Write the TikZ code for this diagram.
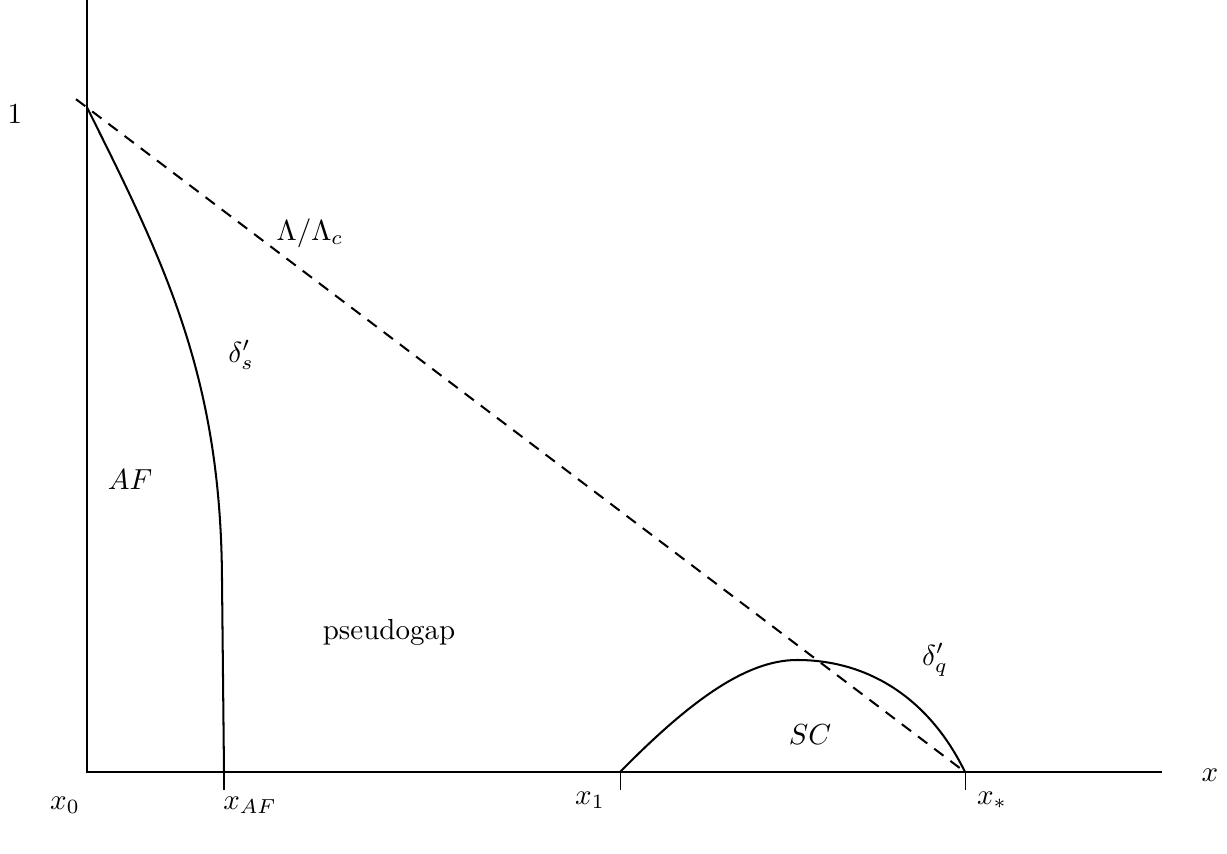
\documentclass[tikz,border=0pt]{standalone}
\usepackage{amsmath,amssymb}
\usepackage{tikz}

\begin{document}
\begin{tikzpicture}[every node/.style={font=\normalsize}, x=0.012119cm, y=-0.012119cm,
	curve/.style={line width=0.7pt}, tick/.style={line width=0.35pt}]
	\useasboundingbox (0,0) rectangle (1227,854);
	% axes
	\coordinate (O) at (87,772);
	\coordinate (top) at (87,0);
	\coordinate (xend) at (1162,772);
	\coordinate (xAF) at (224,772);
	\coordinate (xone) at (620,772);
	\coordinate (xstar) at (965,772);
	\coordinate (one) at (87,107.5);
	\coordinate (dstart) at (76,99.2);
	\draw[tick] (top) -- (O) -- (xend);
	\draw[tick] (xAF) -- ++(0,18);
	\draw[tick] (xone) -- ++(0,18);
	\draw[tick] (xstar) -- ++(0,18);
	% cutoff line
	\draw[curve, dash pattern=on 4pt off 3pt] (dstart) -- (xstar);
	% AF boundary
	\draw[curve] (one) .. controls (167,267) and (221,380) .. (222,580) -- (xAF);
	% SC dome
	\draw[curve] (xone) .. controls (688,703) and (745,660) .. (797,660)
		.. controls (870,660) and (930,700) .. (xstar);
	% labels
	\node (lone) at (15,114) {$1$};
	\node (lcut) at (310,233) {$\Lambda/\Lambda_c$};
	\node (lds) at (241,355) {$\delta'_s$};
	\node (laf) at (130,480) {$AF$};
	\node (lpg) at (389,632) {pseudogap};
	\node (ldq) at (935,660) {$\delta'_q$};
	\node (lsc) at (810,735) {$SC$};
	\node (lx0) at (65,805) {$x_0$};
	\node (lxaf) at (250,805) {$x_{AF}$};
	\node (lx1) at (590,800) {$x_1$};
	\node (lxs) at (992,800) {$x_*$};
	\node (lx) at (1210,775) {$x$};
\end{tikzpicture}
\end{document}
